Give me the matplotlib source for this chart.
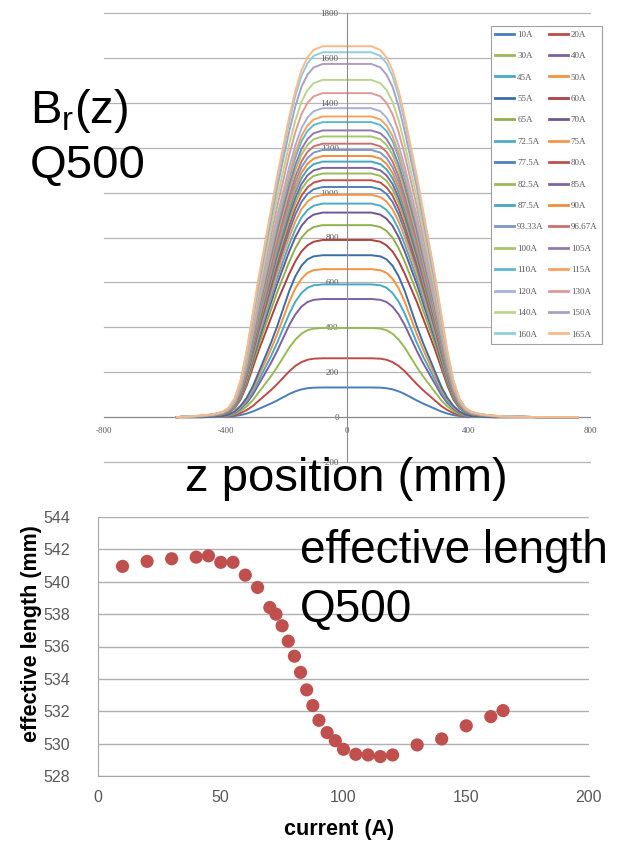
import numpy as np
import matplotlib.pyplot as plt

plt.rcParams['font.family'] = ['Liberation Sans', 'DejaVu Sans']
plt.rcParams['axes.unicode_minus'] = False

# excitation currents of the Q500 field maps
labels = ["10A", "20A", "30A", "40A", "45A", "50A", "55A", "60A", "65A", "70A",
          "72.5A", "75A", "77.5A", "80A", "82.5A", "85A", "87.5A", "90A", "93.33A", "96.67A",
          "100A", "105A", "110A", "115A", "120A", "130A", "140A", "150A", "160A", "165A"]
current = [10, 20, 30, 40, 45, 50, 55, 60, 65, 70,
           72.5, 75, 77.5, 80, 82.5, 85, 87.5, 90, 93.33, 96.67,
           100, 105, 110, 115, 120, 130, 140, 150, 160, 165]

# central Br value for each current
peak_br = [132, 262, 397, 526, 591, 659, 721, 789, 855, 911,
           951, 990, 1025, 1055, 1085, 1110, 1138, 1163, 1190, 1218,
           1250, 1277, 1314, 1339, 1376, 1443, 1502, 1573, 1625, 1652]

# measured effective length (mm)
eff_length = [540.95, 541.26, 541.42, 541.52, 541.60, 541.20, 541.20, 540.41, 539.65, 538.41,
              538.00, 537.28, 536.33, 535.40, 534.40, 533.32, 532.35, 531.44, 530.68, 530.18,
              529.65, 529.34, 529.30, 529.20, 529.30, 529.92, 530.29, 531.10, 531.67, 532.04]

# z scan positions (mm) and normalised Br(z) shape, low and high excitation
z_mm = [-560, -520, -480, -440, -410, -390, -370, -350, -330, -310, -290, -270, -250, -230,
        -210, -190, -170, -150, -130, -110, -80, 0, 80, 110, 130, 150, 170, 190, 210, 230,
        250, 270, 290, 310, 330, 350, 370, 390, 410, 440, 480, 520, 560, 640, 760]
shape_low = [0.0, 0.0, 0.0, 0.002, 0.006, 0.015, 0.035, 0.07, 0.12, 0.19, 0.28, 0.37, 0.46, 0.56,
             0.67, 0.78, 0.87, 0.935, 0.975, 0.993, 1.0, 1.0, 1.0, 0.993, 0.975, 0.935, 0.87, 0.78,
             0.67, 0.56, 0.46, 0.37, 0.28, 0.19, 0.12, 0.07, 0.035, 0.015, 0.006, 0.002, 0.0, 0.0,
             0.0, 0.0, 0.0]
shape_high = [0.0, 0.002, 0.004, 0.008, 0.014, 0.025, 0.05, 0.10, 0.18, 0.28, 0.38, 0.47, 0.56, 0.65,
              0.73, 0.81, 0.88, 0.935, 0.97, 0.99, 1.0, 1.0, 1.0, 0.99, 0.97, 0.935, 0.88, 0.81,
              0.73, 0.65, 0.56, 0.47, 0.38, 0.28, 0.18, 0.10, 0.05, 0.025, 0.014, 0.008, 0.004,
              0.002, 0.001, 0.0, 0.0]

colors = ["#4A7EBB", "#BE4B48", "#98B954", "#7D60A0", "#46AAC5", "#F69240",
          "#3E6DA6", "#AE4240", "#8FB04C", "#6F5792", "#4BACC6", "#F79646",
          "#4F81BD", "#C0504D", "#9BBB59", "#8064A2", "#45A6C0", "#F48C3C",
          "#7F97C9", "#CD6F6D", "#A6C46B", "#8F7BB0", "#5FB8D0", "#F8A15E",
          "#A3B2DA", "#DF9A98", "#BDD48C", "#ABA0C4", "#92CDDD", "#FAB98B"]

fig = plt.figure(figsize=(6.37, 8.43), dpi=100)

# ---- Br(z) profiles ----
ax1 = fig.add_axes([104 / 637, 1 - 462 / 843, 486 / 637, 449 / 843])
z = np.array(z_mm)
for lab, amps, pk, col in zip(labels, current, peak_br, colors):
    shape = np.array(shape_low if amps < 60 else shape_high)
    ax1.plot(z, pk * shape, color=col, lw=1.4, label=lab, zorder=2)

ax1.set_xlim(-800, 800)
ax1.set_ylim(-200, 1800)
ax1.set_xticks([-800, -400, 0, 400, 800])
ax1.set_yticks(np.arange(-200, 1801, 200))
ax1.spines['left'].set_position(('data', 0))
ax1.spines['bottom'].set_position(('data', 0))
ax1.spines['top'].set_visible(False)
ax1.spines['right'].set_visible(False)
ax1.spines['left'].set_color('#8c8c8c')
ax1.spines['bottom'].set_color('#8c8c8c')
ax1.spines['left'].set_zorder(3)
ax1.spines['bottom'].set_zorder(1)
ax1.set_axisbelow(True)
ax1.yaxis.grid(True, color='#b4b4b4', lw=0.9, clip_on=False)
ax1.tick_params(length=0, labelsize=6.5, labelcolor='#595959')
ax1.tick_params(axis='y', pad=6)
ax1.tick_params(axis='x', pad=7)
for t in ax1.get_xticklabels() + ax1.get_yticklabels():
    t.set_family('Liberation Serif')

h, l = ax1.get_legend_handles_labels()
order = list(range(0, len(h), 2)) + list(range(1, len(h), 2))
leg = fig.legend([h[i] for i in order], [l[i] for i in order], ncol=2,
                 loc='upper left', bbox_to_anchor=(486 / 637, 1 - 21 / 843),
                 prop={'family': 'Liberation Serif', 'size': 6.5},
                 fancybox=False, edgecolor='#a0a0a0', framealpha=1,
                 handlelength=2.1, handletextpad=0.3, columnspacing=0.6,
                 labelspacing=1.45, borderpad=0.55)
leg.get_frame().set_linewidth(0.8)
for t in leg.get_texts():
    t.set_color('#595959')
for ln in leg.get_lines():
    ln.set_linewidth(2)

fig.text(30 / 637, 1 - 123 / 843, r'$\mathregular{B_r(z)}$', fontsize=34, va='baseline')
fig.text(30 / 637, 1 - 178 / 843, 'Q500', fontsize=34, va='baseline')
fig.text(185 / 637, 1 - 491 / 843, 'z position (mm)', fontsize=34, va='baseline', zorder=5)

# ---- effective length vs current ----
ax2 = fig.add_axes([98 / 637, 1 - 776 / 843, 491 / 637, 259 / 843])
ax2.scatter(current, eff_length, s=90, color='#C0504D', edgecolors='none', zorder=3)
ax2.set_xlim(0, 200)
ax2.set_ylim(528, 544)
ax2.set_xticks(np.arange(0, 201, 50))
ax2.set_yticks(np.arange(528, 545, 2))
ax2.spines['top'].set_visible(False)
ax2.spines['right'].set_visible(False)
ax2.spines['left'].set_color('#a6a6a6')
ax2.spines['bottom'].set_color('#a6a6a6')
ax2.set_axisbelow(True)
ax2.yaxis.grid(True, color='#b0b0b0', lw=1)
ax2.tick_params(length=0, labelsize=11.5, labelcolor='#595959')
ax2.tick_params(axis='y', pad=20)
ax2.tick_params(axis='x', pad=10)
ax2.set_xlabel('current (A)', fontsize=15.5, fontweight='bold')
ax2.set_ylabel('effective length (mm)', fontsize=15.5, fontweight='bold')
ax2.xaxis.set_label_coords(0.49, -0.165)
ax2.yaxis.set_label_coords(-0.115, 0.55)

fig.text(300 / 637, 1 - 563 / 843, 'effective length', fontsize=33, va='baseline')
fig.text(300 / 637, 1 - 622 / 843, 'Q500', fontsize=33, va='baseline')

fig.savefig('out.png', dpi=100, facecolor='white')
